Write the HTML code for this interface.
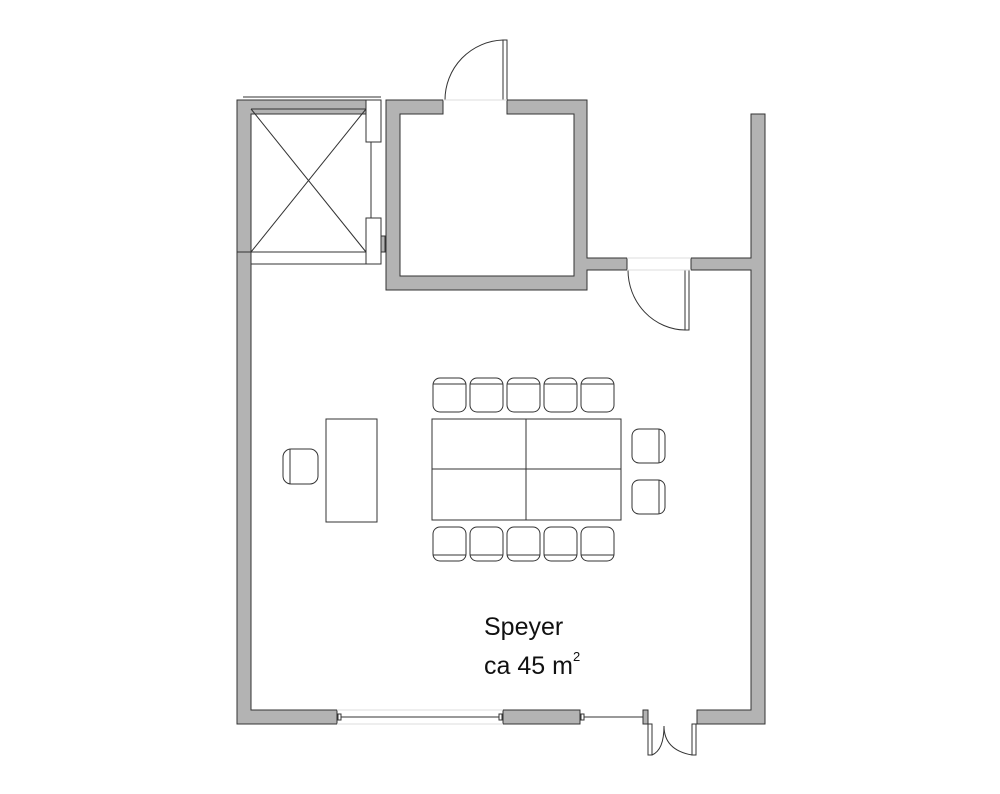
<!DOCTYPE html>
<html><head><meta charset="utf-8"><style>
html,body{margin:0;padding:0;background:#fff;}
svg{display:block;}
</style></head><body>
<svg width="1000" height="794" viewBox="0 0 1000 794" xmlns="http://www.w3.org/2000/svg">
<g fill="#b3b3b3" stroke="#333" stroke-width="1">
  <path d="M386,100 H443 V114 H400 V276 H574 V114 H507 V100 H587 V258 H627 V270 H587 V290 H386 Z" fill-rule="evenodd"/>
  <path d="M751,114 H765 V724 H697 V710 H751 V270 H691 V258 H751 Z"/>
  <path d="M237,252 H251 V710 H337 V724 H237 Z"/>
  <path d="M237,100 H370 V114 H251 V252 H237 Z"/>
  <rect x="366" y="236" width="19" height="16"/>
  <rect x="503" y="710" width="77" height="14"/>
  <rect x="643" y="710" width="5" height="14"/>
</g>
<g fill="none" stroke="#333" stroke-width="1">
  <line x1="243" y1="97" x2="381" y2="97"/>
  <rect x="251" y="252" width="130" height="12" fill="#fff"/>
  <line x1="251" y1="109" x2="366" y2="252"/>
  <line x1="366" y1="109" x2="251" y2="252"/>
  <line x1="251" y1="109" x2="366" y2="109"/>
  <rect x="366" y="100" width="15" height="42" fill="#fff"/>
  <rect x="366" y="218" width="15" height="46" fill="#fff"/>
  <line x1="371" y1="142" x2="371" y2="218"/>
  <rect x="503" y="40" width="4" height="60" fill="#fff"/>
  <path d="M445,100 A60,60 0 0 1 503,40"/>
  <line x1="443" y1="100" x2="507" y2="100" stroke="#ddd"/>
  <rect x="685" y="270" width="4" height="60" fill="#fff"/>
  <path d="M628,270 A58,60 0 0 0 685,330"/>
  <line x1="627" y1="258" x2="691" y2="258" stroke="#ddd"/>
  <line x1="627" y1="270" x2="691" y2="270" stroke="#ddd"/>
  <line x1="337" y1="717" x2="503" y2="717"/>
  <line x1="580" y1="717" x2="643" y2="717"/>
  <line x1="337" y1="710" x2="503" y2="710" stroke="#ddd"/>
  <line x1="337" y1="724" x2="503" y2="724" stroke="#ddd"/>
  <rect x="338" y="714" width="3" height="6" fill="#fff"/>
  <rect x="499" y="714" width="3" height="6" fill="#fff"/>
  <rect x="581" y="714" width="3" height="6" fill="#fff"/>
  <rect x="648" y="724" width="4" height="31" fill="#fff"/>
  <rect x="692" y="724" width="4" height="31" fill="#fff"/>
  <path d="M652,755 Q664,750 664,726"/>
  <path d="M664,726 Q664,750 692,755"/>
  <rect x="326" y="419" width="51" height="103"/>
  <rect x="283" y="449" width="35" height="35" rx="8"/>
  <line x1="290" y1="449" x2="290" y2="484"/>
  <rect x="432" y="419" width="189" height="101"/>
  <line x1="526" y1="419" x2="526" y2="520"/>
  <line x1="432" y1="469" x2="621" y2="469"/>
  <g id="ct">
    <rect x="433" y="378" width="33" height="34" rx="7"/>
    <line x1="433" y1="384" x2="466" y2="384"/>
  </g>
  <use href="#ct" x="37"/><use href="#ct" x="74"/><use href="#ct" x="111"/><use href="#ct" x="148"/>
  <g id="cb">
    <rect x="433" y="527" width="33" height="34" rx="7"/>
    <line x1="433" y1="555" x2="466" y2="555"/>
  </g>
  <use href="#cb" x="37"/><use href="#cb" x="74"/><use href="#cb" x="111"/><use href="#cb" x="148"/>
  <rect x="632" y="429" width="33" height="34" rx="7"/>
  <line x1="659" y1="429" x2="659" y2="463"/>
  <rect x="632" y="480" width="33" height="34" rx="7"/>
  <line x1="659" y1="480" x2="659" y2="514"/>
</g>
<g font-family="Liberation Sans, sans-serif" fill="#111">
  <text x="484" y="635" font-size="25">Speyer</text>
  <text x="484" y="674" font-size="25">ca 45 m<tspan dy="-13" font-size="13">2</tspan></text>
</g>
</svg>
</body></html>
